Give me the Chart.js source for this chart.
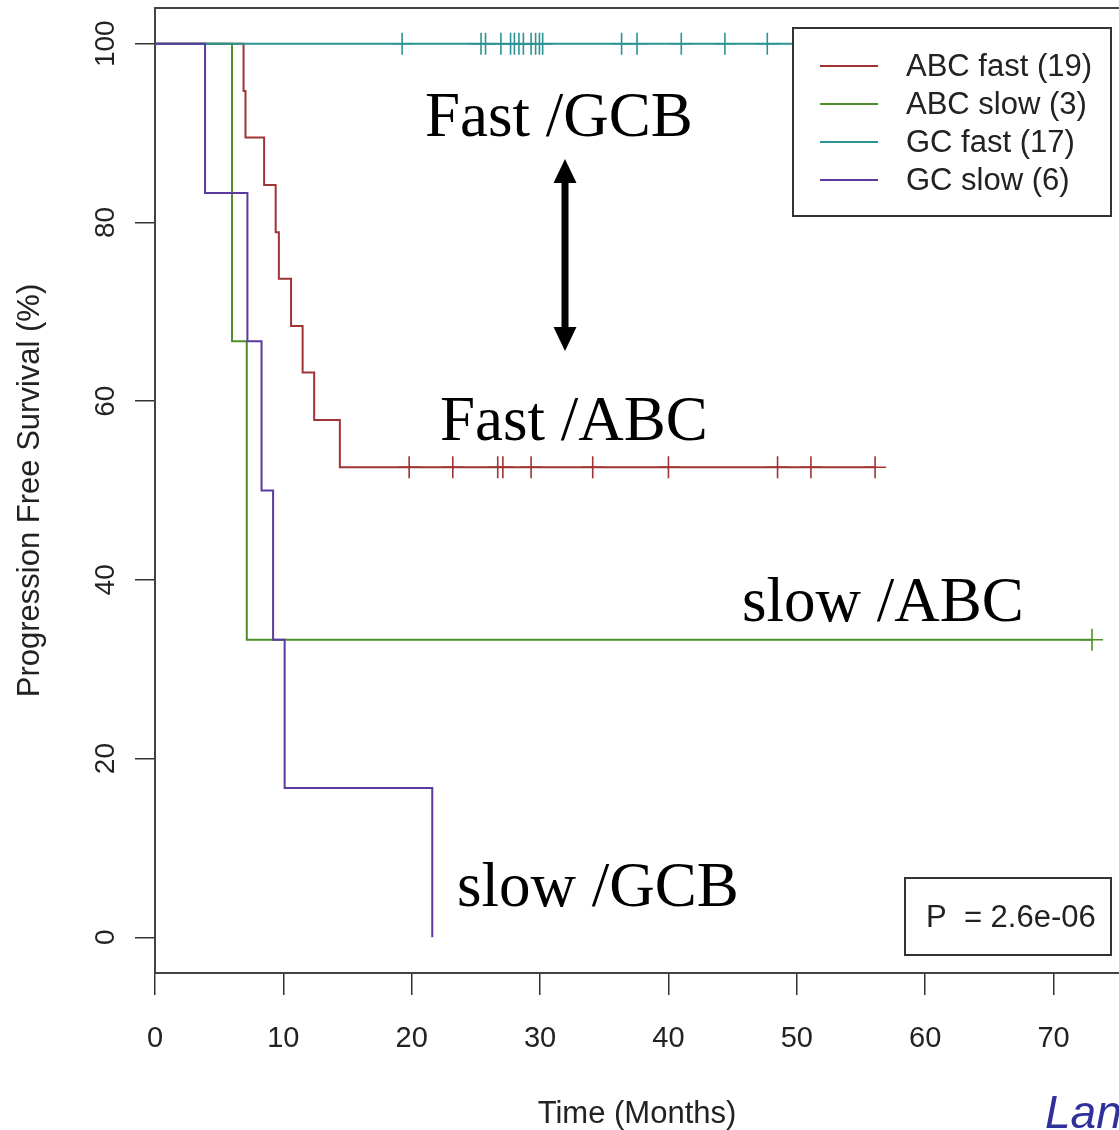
<!DOCTYPE html>
<html lang="en">
  <head>
    <meta charset="UTF-8">
    <title>Progression Free Survival</title>
    <script src="https://cdn.jsdelivr.net/npm/chart.js"></script>
    <style>
      body {
        margin: 0;
        background: #fff
      }

      canvas {
        display: block
      }
    </style>
  </head>
  <body>
    <canvas id="km-chart" width="1119" height="1130"></canvas>
    <script>
      // Kaplan-Meier steps (months, % surviving)
      const abcFastTimes = [0, 6.9, 7.05, 8.5, 9.4, 9.65, 10.6, 11.5, 12.4, 14.4, 56.1];
      const abcFastSurv = [100, 94.7, 89.5, 84.2, 78.9, 73.7, 68.4, 63.2, 57.9, 52.6, 52.6];
      const abcFastCensor = [19.8, 23.2, 26.7, 27.1, 29.3, 34.1, 40.0, 48.5, 51.1, 56.1];

      const abcSlowTimes = [0, 6.0, 7.15, 73.0];
      const abcSlowSurv = [100, 66.7, 33.3, 33.3];
      const abcSlowCensor = [73.0];

      const gcFastTimes = [0, 50.5];
      const gcFastSurv = [100, 100];
      const gcFastCensor = [19.25, 25.4, 25.75, 26.95, 27.7, 28.0, 28.35, 28.7, 29.3, 29.65, 29.95, 30.2, 36.35, 37.55, 41.0, 44.4, 47.7];

      const gcSlowTimes = [0, 3.9, 7.2, 8.3, 9.2, 10.1, 21.6];
      const gcSlowSurv = [100, 83.3, 66.7, 50, 33.3, 16.7, 0];
      const gcSlowCensor = [];

      const seriesLabels = ['ABC fast (19)', 'ABC slow (3)', 'GC fast (17)', 'GC slow (6)'];
      const seriesColors = ['#a03434', '#4f8f2a', '#2b9393', '#5a3aa0'];

      const xTicks = [0, 10, 20, 30, 40, 50, 60, 70];
      const yTicks = [0, 20, 40, 60, 80, 100];

      const notes = [
        { text: 'Fast /GCB', x: 425, y: 136 },
        { text: 'Fast /ABC', x: 440, y: 440 },
        { text: 'slow /ABC', x: 742, y: 621 },
        { text: 'slow /GCB', x: 457, y: 906 }
      ];

      function survAt(times, surv, t) {
        let s = surv[0];
        for (let i = 0; i < times.length; i++) {
          if (times[i] <= t) s = surv[i];
        }
        return s;
      }

      function stepSet(label, times, surv, color, order) {
        return {
          label: label,
          data: times.map((t, i) => ({ x: t, y: surv[i] })),
          borderColor: color,
          backgroundColor: color,
          borderWidth: 2,
          stepped: 'before',
          pointRadius: 0,
          fill: false,
          order: order
        };
      }

      function censorSet(times, stepTimes, surv, color, order) {
        return {
          label: '_censor',
          data: times.map(t => ({ x: t, y: survAt(stepTimes, surv, t) })),
          borderColor: color,
          backgroundColor: color,
          showLine: false,
          pointStyle: 'cross',
          pointRadius: 11,
          pointBorderWidth: 1.6,
          pointHoverRadius: 11,
          order: order
        };
      }

      const datasets = [
        stepSet(seriesLabels[0], abcFastTimes, abcFastSurv, seriesColors[0], 8),
        stepSet(seriesLabels[1], abcSlowTimes, abcSlowSurv, seriesColors[1], 6),
        stepSet(seriesLabels[2], gcFastTimes, gcFastSurv, seriesColors[2], 4),
        stepSet(seriesLabels[3], gcSlowTimes, gcSlowSurv, seriesColors[3], 2),
        censorSet(abcFastCensor, abcFastTimes, abcFastSurv, seriesColors[0], 7),
        censorSet(abcSlowCensor, abcSlowTimes, abcSlowSurv, seriesColors[1], 5),
        censorSet(gcFastCensor, gcFastTimes, gcFastSurv, seriesColors[2], 3),
        censorSet(gcSlowCensor, gcSlowTimes, gcSlowSurv, seriesColors[3], 1)
      ];

      const sans = "'Liberation Sans', Arial, Helvetica, sans-serif";

      // box top line, annotations, arrow, legend, p-value
      const extras = {
        id: 'extras',
        afterDatasetsDraw(chart) {
          const ctx = chart.ctx;
          const area = chart.chartArea;
          ctx.save();
          ctx.strokeStyle = '#444';
          ctx.lineWidth = 2;
          ctx.beginPath();
          ctx.moveTo(area.left, area.top);
          ctx.lineTo(area.right, area.top);
          ctx.stroke();

          // text notes
          ctx.fillStyle = '#000';
          ctx.font = "63px 'Liberation Serif', 'Times New Roman', serif";
          ctx.textAlign = 'left';
          ctx.textBaseline = 'alphabetic';
          notes.forEach(n => ctx.fillText(n.text, n.x, n.y));

          // double arrow
          const ax = 565, top = 159, bot = 351, head = 24, hw = 11.5;
          ctx.fillRect(ax - 3.5, top + head - 2, 7, bot - top - 2 * head + 4);
          ctx.beginPath();
          ctx.moveTo(ax, top);
          ctx.lineTo(ax + hw, top + head);
          ctx.lineTo(ax - hw, top + head);
          ctx.closePath();
          ctx.fill();
          ctx.beginPath();
          ctx.moveTo(ax, bot);
          ctx.lineTo(ax + hw, bot - head);
          ctx.lineTo(ax - hw, bot - head);
          ctx.closePath();
          ctx.fill();

          // legend box
          ctx.fillStyle = '#fff';
          ctx.fillRect(793, 28, 318, 188);
          ctx.strokeStyle = '#333';
          ctx.lineWidth = 2;
          ctx.strokeRect(793, 28, 318, 188);
          ctx.font = '31px ' + sans;
          ctx.textBaseline = 'middle';
          seriesLabels.forEach((lab, i) => {
            const y = 66 + i * 38;
            ctx.strokeStyle = seriesColors[i];
            ctx.lineWidth = 2;
            ctx.beginPath();
            ctx.moveTo(820, y);
            ctx.lineTo(878, y);
            ctx.stroke();
            ctx.fillStyle = '#222';
            ctx.fillText(lab, 906, y + 1);
          });

          // p-value box
          ctx.fillStyle = '#fff';
          ctx.fillRect(905, 878, 206, 77);
          ctx.strokeStyle = '#333';
          ctx.strokeRect(905, 878, 206, 77);
          ctx.fillStyle = '#222';
          ctx.fillText('P  = 2.6e-06', 926, 918);

          // citation fragment, cut by the edge
          ctx.fillStyle = '#30309c';
          ctx.font = 'italic 46px ' + sans;
          ctx.textBaseline = 'alphabetic';
          ctx.fillText('Lan', 1045, 1128);
          ctx.restore();
        }
      };

      function noPad(s) {
        s.paddingTop = 0;
        s.paddingBottom = 0;
        s.paddingLeft = 0;
        s.paddingRight = 0;
      }

      const ctx = document.getElementById('km-chart').getContext('2d');
      new Chart(ctx, {
        type: 'line',
        data: { datasets: datasets },
        plugins: [extras],
        options: {
          responsive: false,
          animation: false,
          layout: { autoPadding: false, padding: { top: 8, right: 0, left: 0, bottom: 0 } },
          plugins: {
            legend: { display: false },
            tooltip: { enabled: false }
          },
          scales: {
            x: {
              type: 'linear',
              min: 0,
              max: 75.1,
              afterBuildTicks: s => { s.ticks = xTicks.map(v => ({ value: v })); },
              afterFit: s => { s.height = 157; noPad(s); },
              grid: { drawOnChartArea: false, tickLength: 22, color: '#333', lineWidth: 1.5 },
              border: { display: true, color: '#444', width: 2 },
              ticks: { padding: 27, color: '#222', font: { family: sans, size: 29 } },
              title: {
                display: true,
                text: 'Time (Months)',
                color: '#222',
                font: { family: sans, size: 31 },
                padding: { top: 0, bottom: -3 }
              }
            },
            y: {
              type: 'linear',
              min: -4,
              max: 104,
              afterBuildTicks: s => { s.ticks = yTicks.map(v => ({ value: v })); },
              afterFit: s => { s.width = 155; noPad(s); },
              grid: { drawOnChartArea: false, tickLength: 20, color: '#333', lineWidth: 1.5 },
              border: { display: true, color: '#444', width: 2 },
              ticks: {
                minRotation: 90,
                maxRotation: 90,
                crossAlign: 'center',
                padding: 5,
                color: '#222',
                font: { family: sans, size: 28 }
              },
              title: {
                display: true,
                text: 'Progression Free Survival (%)',
                color: '#222',
                font: { family: sans, size: 31 },
                padding: { top: 12, bottom: 0 }
              }
            }
          }
        }
      });
    </script>
  </body>
</html>
